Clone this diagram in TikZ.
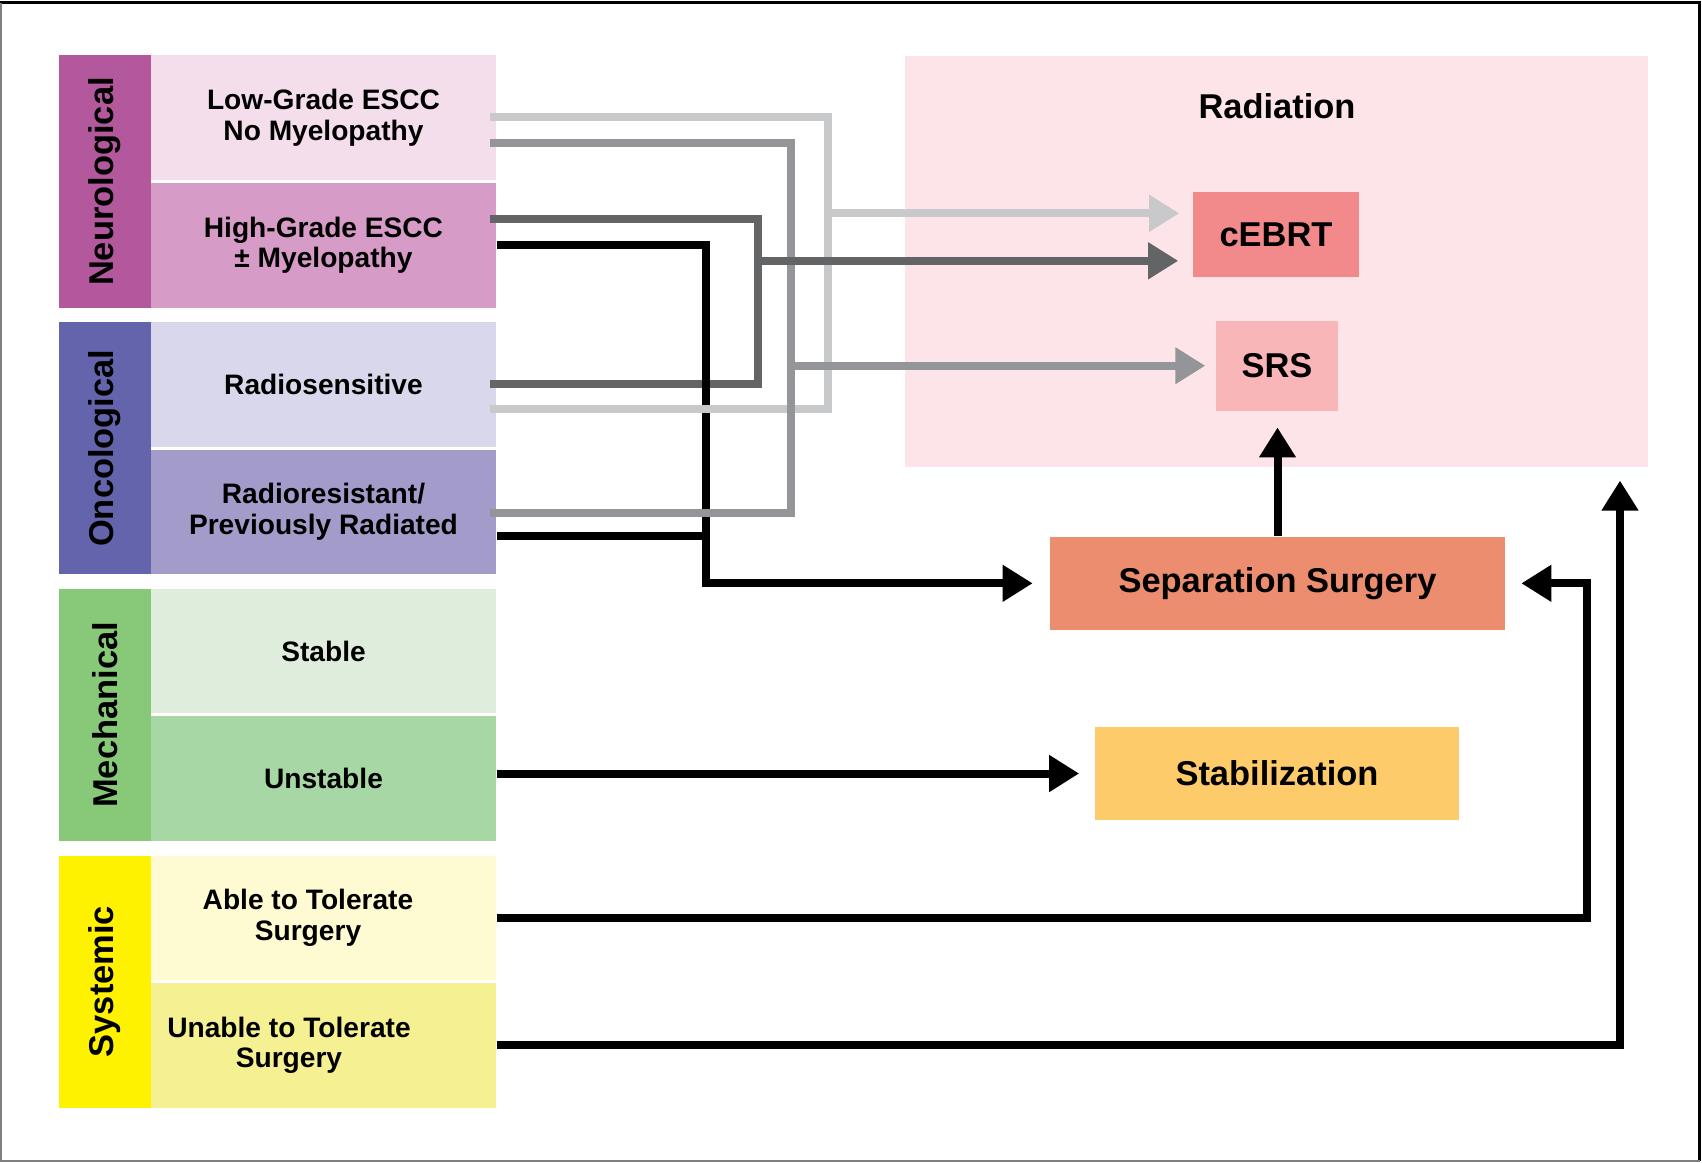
\documentclass[tikz,border=0pt]{standalone}
\usepackage{fontspec}
\setmainfont{Liberation Sans}
\usetikzlibrary{calc, arrows.meta}
\definecolor{neurodark}{HTML}{B4589E}
\definecolor{neurolow}{HTML}{F4DEEB}
\definecolor{neurohigh}{HTML}{D69BC6}
\definecolor{oncodark}{HTML}{6464AD}
\definecolor{oncolow}{HTML}{D9D7EC}
\definecolor{oncohigh}{HTML}{A39CCB}
\definecolor{mechdark}{HTML}{88C979}
\definecolor{mechlow}{HTML}{DFEEDC}
\definecolor{mechhigh}{HTML}{A8D7A6}
\definecolor{sysdark}{HTML}{FFF200}
\definecolor{syslow}{HTML}{FEFAD1}
\definecolor{syshigh}{HTML}{F5F092}
\definecolor{radbg}{HTML}{FCE4E8}
\definecolor{cebrtred}{HTML}{F28A8C}
\definecolor{srspink}{HTML}{F8B6B9}
\definecolor{sepsalmon}{HTML}{EC8D70}
\definecolor{staborange}{HTML}{FECB6B}
\definecolor{lightline}{HTML}{C8C9CB}
\definecolor{midline}{HTML}{939598}
\definecolor{darkline}{HTML}{636466}
\tikzset{
    group box/.style={rotate=90, minimum width=2.52cm, minimum height=0.92cm, inner sep=0pt, font=\bfseries\fontsize{9.8}{11}\selectfont},
    factor box/.style={minimum width=3.45cm, minimum height=1.245cm, inner sep=0pt, align=center, font=\bfseries\fontsize{8}{8.7}\selectfont},
    treat box/.style={inner sep=0pt, font=\bfseries\fontsize{9.8}{11}\selectfont},
    route/.style={line width=0.08cm},
    route arrow/.style={route, -{Triangle[length=0.3cm, width=0.35cm]}},
}
\newcommand{\drawfactors}{
    \foreach \grp/\row/\title in {neuro/0/Neurological, onco/1/Oncological, mech/2/Mechanical, sys/3/Systemic} {
        \node[group box, fill=\grp dark] (\grp) at (105, {181.5+266.7*\row}) {\title};
    }
    \node[factor box, fill=neurolow] (lowgrade) at (323.5, 117.75) {Low-Grade ESCC\\No Myelopathy};
    \node[factor box, fill=neurohigh] (highgrade) at (323.5, 245.25) {High-Grade ESCC\\± Myelopathy};
    \node[factor box, fill=oncolow] (radiosens) at (323.5, 384.45) {Radiosensitive};
    \node[factor box, fill=oncohigh] (radiores) at (323.5, 511.95) {Radioresistant/\\Previously Radiated};
    \node[factor box, fill=mechlow] (stable) at (323.5, 651.15) {Stable};
    \node[factor box, fill=mechhigh] (unstable) at (323.5, 778.65) {Unstable};
    \node[factor box, fill=syslow] (able) at (323.5, 917.85) {Able to Tolerate\hspace*{0.31cm}\\Surgery\hspace*{0.31cm}};
    \node[factor box, fill=syshigh] (unable) at (323.5, 1045.35) {Unable to Tolerate\hspace*{0.69cm}\\Surgery\hspace*{0.69cm}};
}
\newcommand{\drawtreatments}{
    \node[treat box, fill=radbg, minimum width=7.43cm, minimum height=4.11cm] (radiation) at (1276.5, 261.2) {};
    \node[treat box] (radtitle) at (1277, 106.3) {Radiation};
    \node[treat box, fill=cebrtred, minimum width=1.66cm, minimum height=0.85cm] (cebrt) at (1276, 234.8) {cEBRT};
    \node[treat box, fill=srspink, minimum width=1.22cm, minimum height=0.9cm] (srs) at (1277, 365.7) {SRS};
    \node[treat box, fill=sepsalmon, minimum width=4.54cm, minimum height=0.93cm] (sepsurg) at (1277.5, 583.3) {Separation Surgery};
    \node[treat box, fill=staborange, minimum width=3.64cm, minimum height=0.93cm] (stab) at (1277, 773.5) {Stabilization};
}
\newcommand{\drawroutes}{
    \coordinate (bkbus) at (706, 0);
    \coordinate (dgbus) at (757.5, 0);
    \coordinate (mgbus) at (790.5, 0);
    \coordinate (lgbus) at (828, 0);
    \coordinate (ablebus) at (1586.5, 0);
    \coordinate (unablebus) at (1620, 0);
    % grey ends start a little inside the factor boxes
    \coordinate (lowlg) at ($(lowgrade.east)+(-7,-1)$);
    \coordinate (lowmg) at ($(lowgrade.east)+(-7,25)$);
    \coordinate (highdg) at ($(highgrade.east)+(-7,-26)$);
    \coordinate (sensdg) at ($(radiosens.east)+(-7,0)$);
    \coordinate (senslg) at ($(radiosens.east)+(-7,24.5)$);
    \coordinate (resmg) at ($(radiores.east)+(-7,1)$);
    \coordinate (resbk) at ($(radiores.east)+(0,24)$);
    \coordinate (cebrtlg) at ($(cebrt.west)+(-13,-21.5)$);
    \coordinate (cebrtdg) at ($(cebrt.west)+(-14,26)$);
    \coordinate (unabletip) at ($(unablebus |- radiation.south)+(0,13)$);
    \draw[route, darkline] (highdg) -| (dgbus |- sensdg) -- (sensdg);
    \draw[route arrow] (highgrade.east) -| (bkbus |- sepsurg) -- ($(sepsurg.west)+(-17,0)$);
    \draw[route] (resbk) -- (bkbus |- resbk);
    \draw[route, lightline] (lowlg) -| (lgbus |- senslg) -- (senslg);
    \draw[route arrow, lightline] (lgbus |- cebrtlg) -- (cebrtlg);
    \draw[route, midline] (lowmg) -| (mgbus |- resmg) -- (resmg);
    \draw[route arrow, midline] (mgbus |- srs) -- ($(srs.west)+(-10,0)$);
    \draw[route arrow, darkline] (dgbus |- cebrtdg) -- (cebrtdg);
    \draw[route arrow] (sepsurg.north) -- ($(sepsurg.north |- srs.south)+(0,16)$);
    \draw[route arrow] (unstable.east |- stab) -- ($(stab.west)+(-15,0)$);
    \draw[route arrow] (able.east) -| (ablebus |- sepsurg) -- ($(sepsurg.east)+(16,0)$);
    \draw[route arrow] (unable.east) -| (unabletip);
}

\begin{document}
\begin{tikzpicture}[x=0.01cm, y=-0.01cm]
    \useasboundingbox (0,0) rectangle (1702,1162);
    \draw[line width=0.03cm] (0.5,2.5) -- (1699.5,2.5) -- (1699.5,1161);
    \draw[line width=0.02cm, gray] (0.5,2.5) -- (0.5,1161) -- (1699.5,1161);
    \drawtreatments
    \drawfactors
    \drawroutes
\end{tikzpicture}
\end{document}
